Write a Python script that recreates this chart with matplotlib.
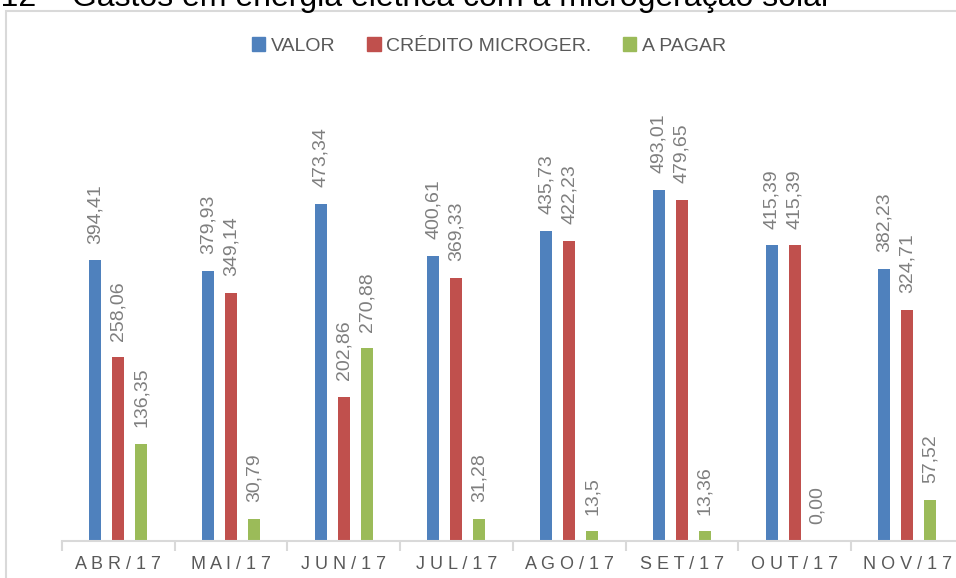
import matplotlib
matplotlib.use("Agg")
import matplotlib.pyplot as plt
from matplotlib.patches import Patch, Rectangle
import numpy as np

# data
meses = ["ABR/17", "MAI/17", "JUN/17", "JUL/17", "AGO/17", "SET/17", "OUT/17", "NOV/17"]
valor = [394.41, 379.93, 473.34, 400.61, 435.73, 493.01, 415.39, 382.23]
credito = [258.06, 349.14, 202.86, 369.33, 422.23, 479.65, 415.39, 324.71]
a_pagar = [136.35, 30.79, 270.88, 31.28, 13.5, 13.36, 0.00, 57.52]
series_names = ["VALOR", "CRÉDITO MICROGER.", "A PAGAR"]
cores = ["#4F81BD", "#C0504D", "#9BBB59"]

plt.rcParams['font.family'] = ['Liberation Sans', 'DejaVu Sans']

fig = plt.figure(figsize=(9.56, 5.78), dpi=100)
W, H = 956, 578

# chart frame (partly outside the picture)
fig.patches.append(Rectangle((6 / W, -0.2), 1.2, 1.2 - 11 / H,
                             transform=fig.transFigure, fill=False,
                             edgecolor="#D9D9D9", linewidth=1.5))

# caption, cut off by the top edge as in the source
fig.text(832 / W, 1 - 6 / H, "Figura 12 – Gastos em energia elétrica com a microgeração solar",
         ha='right', va='baseline', fontsize=23, color='black')

ax = fig.add_axes([62 / W, 37 / H, 901.6 / W, 427 / H])
x = np.arange(len(meses))
bw = 0.107
off = 0.204

for i, (vals, name, c) in enumerate(zip([valor, credito, a_pagar], series_names, cores)):
    xs = x + (i - 1) * off
    ax.bar(xs, vals, width=bw, color=c, label=name)
    for xi, v in zip(xs, vals):
        lab = f"{v:.2f}".replace(".", ",") if v != 13.5 else "13,5"
        ax.annotate(lab, (xi, v), xytext=(0, 12), textcoords='offset points',
                    rotation=90, ha='center', va='bottom', fontsize=14,
                    color='#7F7F7F')

ax.set_xlim(-0.5, len(meses) - 0.5)
ax.set_ylim(0, 600)
for s in ['top', 'right', 'left']:
    ax.spines[s].set_visible(False)
ax.spines['bottom'].set_color('#D9D9D9')
ax.spines['bottom'].set_linewidth(1.5)
ax.set_yticks([])

ax.set_xticks(x)
ax.set_xticklabels([" ".join(list(m)) for m in meses], fontsize=13, color='#595959')
ax.tick_params(axis='x', which='major', length=0, pad=11)
ax.set_xticks(np.arange(len(meses) + 1) - 0.5, minor=True)
ax.tick_params(axis='x', which='minor', length=7, width=1.5, color='#D9D9D9')

handles = [Patch(color=c) for c in cores]
leg = fig.legend(handles, series_names, loc='center', bbox_to_anchor=(489 / W, 1 - 46 / H),
                 ncol=3, frameon=False, fontsize=14, handlelength=0.7, handleheight=0.7,
                 handletextpad=0.3, columnspacing=1.6)
for t in leg.get_texts():
    t.set_color('#595959')

fig.savefig("out.png", dpi=100)
